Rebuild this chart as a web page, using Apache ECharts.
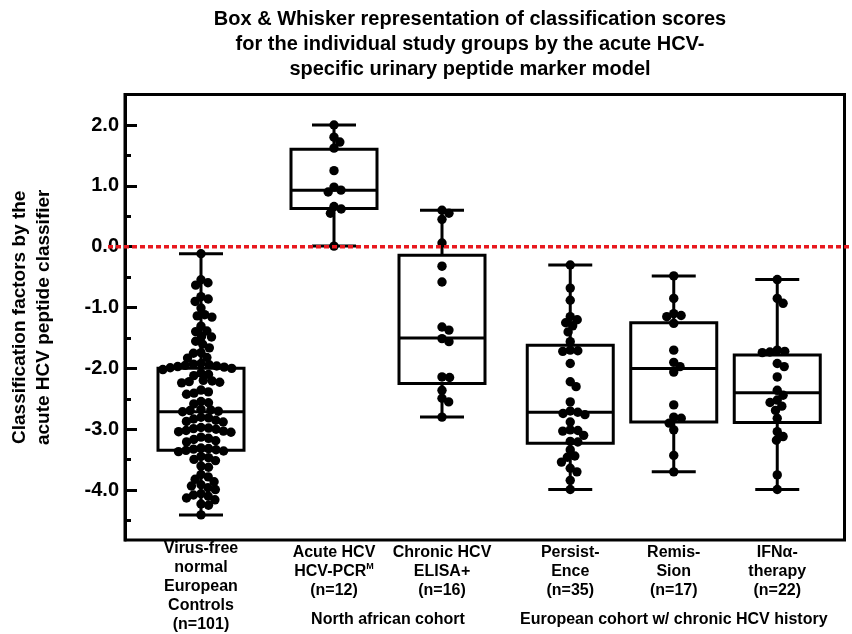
<!DOCTYPE html>
<html>
<head>
<meta charset="utf-8">
<title>Classification scores by study group</title>
<script src="https://cdn.jsdelivr.net/npm/echarts@6/dist/echarts.min.js"></script>
<style>
  html, body { margin: 0; padding: 0; background: #ffffff; }
  #chart { width: 852px; height: 634px; }
</style>
</head>
<body>
<div id="chart"></div>
<script>
// ---- text ----
const titleText = 'Box & Whisker representation of classification scores\nfor the individual study groups by the acute HCV-\nspecific urinary peptide marker model';
const yAxisTitle = 'Classification factors by the\nacute HCV peptide classifier';
const groupLabelsControls = ['Virus-free\nnormal\nEuropean\nControls\n(n=101)'];
const groupLabelsAfrican = ['Acute HCV\nHCV-PCR{sup|M}\n(n=12)', 'Chronic HCV\nELISA+\n(n=16)'];
const groupLabelsEuropean = ['Persist-\nEnce\n(n=35)', 'Remis-\nSion\n(n=17)', 'IFN\u03b1-\ntherapy\n(n=22)'];
const cohortAfrican = 'North african cohort';
const cohortEuropean = 'European cohort w/ chronic HCV history';

// ---- y axis ----
const yMin = -4.82;
const yMax = 2.5;
const yMajorTicks = [-4, -3, -2, -1, 0, 1, 2];
const yMinorTicks = [-4.5, -3.5, -2.5, -1.5, -0.5, 0.5, 1.5];
const cutoffScore = 0;

// ---- classification scores per study group ----
const controls = [
  -0.14,
  -0.57, -0.62, -0.66,
  -0.85, -0.89, -0.93,
  -1.04,
  -1.15, -1.17, -1.19,
  -1.34,
  -1.42, -1.43,
  -1.51, -1.52,
  -1.59, -1.64, -1.70,
  -1.78, -1.79,
  -1.86, -1.87,
  -1.96, -1.97, -1.98, -1.99, -2.00, -2.01, -2.02, -2.03, -2.04, -2.06,
  -2.12, -2.14, -2.16,
  -2.24, -2.25, -2.26, -2.27, -2.28,
  -2.40, -2.43, -2.45, -2.47,
  -2.59, -2.61, -2.63,
  -2.72, -2.73, -2.74, -2.75, -2.76,
  -2.85, -2.86, -2.88, -2.90, -2.92, -2.93,
  -3.02, -3.03, -3.04, -3.05, -3.07, -3.08, -3.09, -3.10,
  -3.18, -3.20, -3.22, -3.24, -3.26,
  -3.36, -3.37, -3.38, -3.39, -3.40, -3.41, -3.42,
  -3.50, -3.52, -3.55, -3.57,
  -3.66, -3.68,
  -3.80, -3.84, -3.88, -3.92,
  -3.97, -3.99, -4.02, -4.05,
  -4.12, -4.14, -4.16, -4.19, -4.22,
  -4.29, -4.31,
  -4.47
];
const acuteHcv = [2.00, 1.80, 1.72, 1.62, 1.25, 0.98, 0.93, 0.90, 0.66, 0.62, 0.55, 0.01];
const chronicHcv = [0.60, 0.55, 0.45, 0.06, -0.32, -0.58, -1.32, -1.37, -1.51, -1.56, -2.14, -2.15, -2.36, -2.49, -2.55, -2.80];
const persistence = [
  -0.30, -0.68, -0.88, -1.15, -1.20, -1.25, -1.30, -1.40, -1.56, -1.70, -1.71, -1.72,
  -1.92, -2.22, -2.30, -2.55, -2.70, -2.72, -2.74, -2.76, -2.88, -3.01, -3.02, -3.03,
  -3.10, -3.20, -3.21, -3.34, -3.44, -3.46, -3.54, -3.64, -3.70, -3.84, -3.99
];
const remission = [-0.48, -0.85, -1.10, -1.13, -1.15, -1.26, -1.70, -1.90, -1.97, -2.06, -2.60, -2.80, -2.82, -2.90, -3.01, -3.43, -3.70];
const ifnTherapy = [
  -0.54, -0.85, -0.93, -1.70, -1.72, -1.73, -1.74, -1.92, -1.97, -2.14, -2.36,
  -2.44, -2.52, -2.56, -2.62, -2.69, -2.82, -3.04, -3.12, -3.18, -3.75, -3.99
];

// ---- box summaries: [lower whisker, Q1, median, Q3, upper whisker] ----
const boxControls = [-4.47, -3.40, -2.76, -2.04, -0.14];
const boxAcute = [0.01, 0.63, 0.93, 1.60, 2.00];
const boxChronic = [-2.80, -2.25, -1.50, -0.14, 0.60];
const boxPersistence = [-3.99, -3.23, -2.72, -1.62, -0.30];
const boxRemission = [-3.70, -2.88, -2.00, -1.25, -0.48];
const boxIfn = [-3.99, -2.89, -2.40, -1.78, -0.54];

// ---- drawing constants ----
const FONT = '"Liberation Sans", Arial, sans-serif';
const BOX_W = 86;
const CAP_W = 44;
const LINE_W = 3;
const DOT_R = 4.7;
const DOT_SPACING = 7.6;
const PLOT_TOP = 94.6;
const PLOT_H = 445.4;

// simple beeswarm: each point goes to the free spot closest to the centre line
function beeswarm(ys, d) {
  const order = ys.map((y, i) => i).sort((a, b) => ys[a] - ys[b]);
  const placed = [];
  const offsets = new Array(ys.length).fill(0);
  order.forEach(i => {
    const y = ys[i];
    const near = placed.filter(p => Math.abs(p.y - y) < d);
    const cands = [0];
    near.forEach(p => {
      const dx = Math.sqrt(d * d - (p.y - y) * (p.y - y));
      cands.push(p.x + dx, p.x - dx);
    });
    cands.sort((a, b) => Math.abs(a) - Math.abs(b));
    let x = 0;
    for (const c of cands) {
      if (near.every(p => (p.x - c) * (p.x - c) + (p.y - y) * (p.y - y) >= d * d - 0.01)) { x = c; break; }
    }
    placed.push({ x: x, y: y });
    offsets[i] = x;
  });
  return offsets;
}

function makeDotRenderer(values, cat) {
  let offsets = null;
  let key = null;
  return function (params, api) {
    const ref = api.coord([cat, 0])[1] + ':' + api.coord([cat, 1])[1];
    if (!offsets || key !== ref) {
      offsets = beeswarm(values.map(v => api.coord([cat, v])[1]), DOT_SPACING);
      key = ref;
    }
    const p = api.coord([cat, api.value(1)]);
    return {
      type: 'circle',
      shape: { cx: p[0] + offsets[params.dataIndex], cy: p[1], r: DOT_R },
      style: { fill: '#000000' }
    };
  };
}

function renderBox(params, api) {
  const cat = api.value(0);
  const lo = api.coord([cat, api.value(1)]);
  const q1 = api.coord([cat, api.value(2)]);
  const md = api.coord([cat, api.value(3)]);
  const q3 = api.coord([cat, api.value(4)]);
  const hi = api.coord([cat, api.value(5)]);
  const x = lo[0];
  const hw = BOX_W / 2;
  const cw = CAP_W / 2;
  const st = { stroke: '#000000', lineWidth: LINE_W, fill: 'none' };
  return {
    type: 'group',
    children: [
      { type: 'line', shape: { x1: x, y1: hi[1], x2: x, y2: q3[1] }, style: st },
      { type: 'line', shape: { x1: x, y1: q1[1], x2: x, y2: lo[1] }, style: st },
      { type: 'line', shape: { x1: x - cw, y1: hi[1], x2: x + cw, y2: hi[1] }, style: st },
      { type: 'line', shape: { x1: x - cw, y1: lo[1], x2: x + cw, y2: lo[1] }, style: st },
      { type: 'rect', shape: { x: x - hw, y: q3[1], width: 2 * hw, height: q1[1] - q3[1] }, style: st },
      { type: 'line', shape: { x1: x - hw, y1: md[1], x2: x + hw, y2: md[1] }, style: st }
    ]
  };
}

const labelStyle = {
  interval: 0,
  margin: 3,
  color: '#000000',
  fontFamily: FONT,
  fontWeight: 'bold',
  fontSize: 16,
  lineHeight: 19,
  rich: {
    sup: { fontFamily: FONT, fontWeight: 'bold', fontSize: 9, lineHeight: 19, verticalAlign: 'top', color: '#000000' }
  }
};

function hiddenY(gridIndex) {
  return { type: 'value', gridIndex: gridIndex, min: yMin, max: yMax, show: false, splitLine: { show: false } };
}
function catX(gridIndex, cats, name) {
  return {
    type: 'category', gridIndex: gridIndex, data: cats,
    axisLine: { show: false }, axisTick: { show: false }, splitLine: { show: false },
    axisLabel: labelStyle,
    name: name || '', nameLocation: 'middle', nameGap: 70,
    nameTextStyle: { color: '#000000', fontFamily: FONT, fontWeight: 'bold', fontSize: 16, lineHeight: 19 }
  };
}

// grids 1..3 hold the study groups; each uses the x and y axis of the same index
function boxSeries(idx, rows) {
  return {
    type: 'custom', xAxisIndex: idx, yAxisIndex: idx,
    renderItem: renderBox, z: 2,
    encode: { x: 0, y: [1, 2, 3, 4, 5] },
    data: rows.map((r, i) => [i].concat(r))
  };
}
function dotSeries(idx, values, cat) {
  return {
    type: 'custom', xAxisIndex: idx, yAxisIndex: idx,
    renderItem: makeDotRenderer(values, cat), z: 3,
    encode: { x: 0, y: 1 },
    data: values.map(v => [cat, v])
  };
}

const option = {
  animation: false,
  backgroundColor: '#ffffff',
  title: {
    text: titleText,
    left: 470,
    top: 6.5,
    padding: 0,
    textAlign: 'center',
    textStyle: { color: '#000000', fontFamily: FONT, fontWeight: 'bold', fontSize: 20, lineHeight: 25 }
  },
  grid: [
    { left: 123, right: 7.5, top: PLOT_TOP, height: PLOT_H, show: true, borderColor: '#000000', borderWidth: LINE_W, backgroundColor: 'transparent' },
    { left: 148.5, width: 105, top: PLOT_TOP, height: PLOT_H },
    { left: 280, width: 216, top: PLOT_TOP, height: PLOT_H },
    { left: 518.5, width: 310.5, top: PLOT_TOP, height: PLOT_H },
    { left: 108, right: 0, top: PLOT_TOP, height: PLOT_H }
  ],
  xAxis: [
    { type: 'value', gridIndex: 0, min: 0, max: 1, show: false },
    catX(1, groupLabelsControls),
    catX(2, groupLabelsAfrican, cohortAfrican),
    catX(3, groupLabelsEuropean, cohortEuropean),
    { type: 'value', gridIndex: 4, min: 0, max: 1, show: false }
  ],
  yAxis: [
    {
      type: 'value', gridIndex: 0, position: 'left', min: yMin, max: yMax,
      splitLine: { show: false },
      axisLine: { show: true, lineStyle: { color: '#000000', width: LINE_W } },
      axisTick: { show: true, inside: true, length: 12, customValues: yMajorTicks, lineStyle: { color: '#000000', width: LINE_W } },
      axisLabel: {
        customValues: yMajorTicks, margin: 6, color: '#000000',
        fontFamily: FONT, fontWeight: 'bold', fontSize: 20,
        formatter: v => Number(v).toFixed(1)
      },
      name: yAxisTitle, nameLocation: 'middle', nameGap: 69, nameRotate: 90,
      nameTextStyle: { color: '#000000', fontFamily: FONT, fontWeight: 'bold', fontSize: 19, lineHeight: 24, align: 'center' }
    },
    hiddenY(1),
    hiddenY(2),
    hiddenY(3),
    hiddenY(4),
    {
      type: 'value', gridIndex: 0, position: 'left', offset: 0, min: yMin, max: yMax,
      splitLine: { show: false },
      axisLine: { show: false },
      axisTick: { show: true, inside: true, length: 6, customValues: yMinorTicks, lineStyle: { color: '#000000', width: LINE_W } },
      axisLabel: { show: false }
    }
  ],
  series: [
    boxSeries(1, [boxControls]),
    boxSeries(2, [boxAcute, boxChronic]),
    boxSeries(3, [boxPersistence, boxRemission, boxIfn]),
    dotSeries(1, controls, 0),
    dotSeries(2, acuteHcv, 0),
    dotSeries(2, chronicHcv, 1),
    dotSeries(3, persistence, 0),
    dotSeries(3, remission, 1),
    dotSeries(3, ifnTherapy, 2),
    {
      type: 'line', xAxisIndex: 4, yAxisIndex: 4, z: 10,
      symbol: 'none', silent: true,
      lineStyle: { color: '#e8191f', width: 3.5, type: [5, 3] },
      data: [[0, cutoffScore], [1, cutoffScore]]
    }
  ]
};

const chart = echarts.init(document.getElementById('chart'));
chart.setOption(option);
</script>
</body>
</html>
